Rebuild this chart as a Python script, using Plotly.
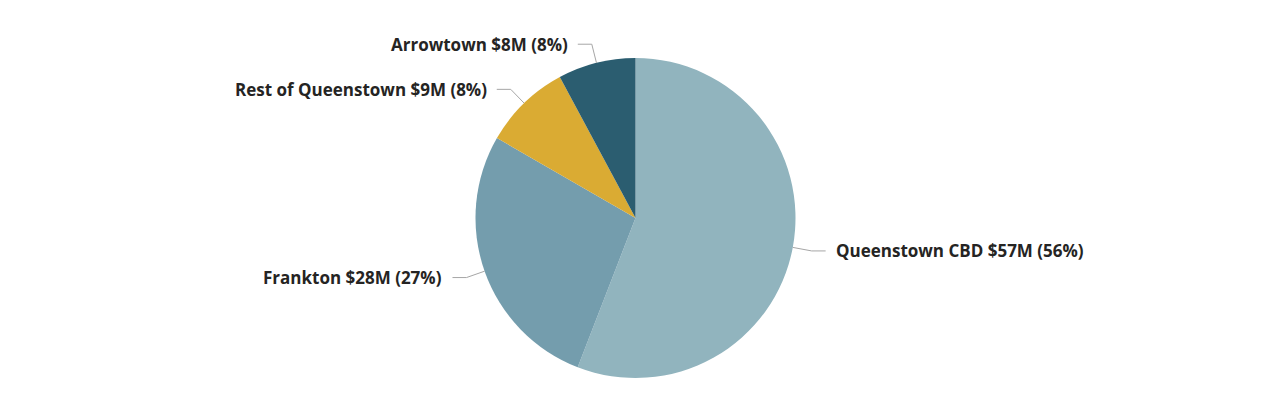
import math
import plotly.graph_objects as go

# Data
categories = ["Queenstown CBD", "Frankton", "Rest of Queenstown", "Arrowtown"]
values = [57, 28, 9, 8]
value_labels = ["$57M", "$28M", "$9M", "$8M"]
pct_labels = ["56%", "27%", "8%", "8%"]
colors = ["#91B4BE", "#749DAD", "#DAAB33", "#2B5D70"]

W, H = 1269, 397
cx, cy, R = 635.5, 218.0, 160.0

fig = go.Figure(go.Pie(
    labels=categories,
    values=values,
    sort=False,
    direction="clockwise",
    rotation=0,
    marker=dict(colors=colors, line=dict(width=0)),
    textinfo="none",
    hoverinfo="label+value+percent",
    domain=dict(x=[(cx - R) / W, (cx + R) / W], y=[(H - cy - R) / H, (H - cy + R) / H]),
    showlegend=False,
))

# Leader lines and labels computed from the data
total = sum(values)
shapes = []
annotations = []
cum = 0.0
for cat, v, vl, pl in zip(categories, values, value_labels, pct_labels):
    mid = (cum + v / 2) / total * 2 * math.pi
    cum += v
    s, c = math.sin(mid), math.cos(mid)
    x0, y0 = cx + R * s, cy - R * c
    x1, y1 = cx + R * 1.12 * s, cy - R * 1.12 * c
    side = 1 if s >= 0 else -1
    x2 = x1 + side * 14
    path = f"M {x0/W},{1-y0/H} L {x1/W},{1-y1/H} L {x2/W},{1-y1/H}"
    shapes.append(dict(type="path", xref="paper", yref="paper", path=path,
                       line=dict(color="#A6A6A6", width=1)))
    annotations.append(dict(
        x=(x2 + side * 8) / W, y=1 - y1 / H, xref="paper", yref="paper",
        text=f"{cat} {vl} ({pl})", showarrow=False,
        xanchor="left" if side > 0 else "right", yanchor="middle",
        font=dict(family="Open Sans", size=17, color="#252423", weight="bold"),
    ))

fig.update_layout(
    width=W, height=H,
    margin=dict(l=0, r=0, t=0, b=0),
    paper_bgcolor="white",
    plot_bgcolor="white",
    shapes=shapes,
    annotations=annotations,
)

fig.write_html("out.html", config={"displayModeBar": False},
               post_script="document.body.style.margin='0';document.body.style.overflow='hidden';")
